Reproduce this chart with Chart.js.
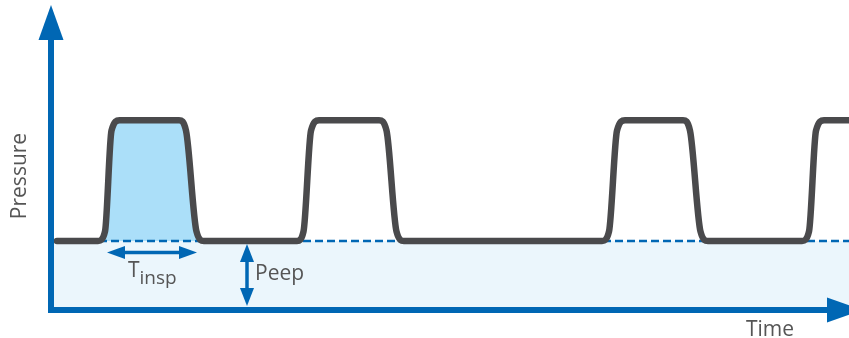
<!DOCTYPE html>
<html>
<head>
<meta charset="utf-8">
<title>Pressure / Time</title>
<script src="https://cdn.jsdelivr.net/npm/chart.js@4.4.1/dist/chart.umd.min.js"></script>
<style>
    html, body { margin: 0; padding: 0; background: #ffffff; }
    #contenitore { position: relative; width: 849px; height: 338px; }
</style>
</head>
<body>
<div id="contenitore"><canvas id="myChart"></canvas></div>
<script>
// curva di pressione: tempo in s, pressione in cmH2O
let tempo = [0.06,
    0.47, 0.54, 0.605, 0.685, 1.28, 1.35, 1.455, 1.53,
    2.46, 2.525, 2.60, 2.68, 3.28, 3.355, 3.455, 3.53,
    5.51, 5.58, 5.66, 5.74, 6.32, 6.39, 6.495, 6.57,
    7.51, 7.58, 7.65, 7.73, 7.99];
let pressione = [4,
    4, 4.55, 10.4, 11, 11, 10.4, 4.55, 4,
    4, 4.55, 10.4, 11, 11, 10.4, 4.55, 4,
    4, 4.55, 10.4, 11, 11, 10.4, 4.55, 4,
    4, 4.55, 10.4, 11, 11];

let peep = 4;
let primoAtto = [1, 9];          // indici del primo ciclo inspiratorio
let tInsp = [0.56, 1.46];        // freccia T insp
let pInsp = 3.33;
let tPeep = 1.96;                // freccia Peep
let rangeTempo = [-0.51, 7.98];
let rangePressione = [-1.623, 17.971];
let puntaAssi = [8.11, 17.68];   // punte delle frecce degli assi (tempo, pressione)

const BLU = "#0067b4";
const GRIGIO = "#4a4a4c";
const TESTO = "#555555";

function punti(xs, ys)
{
    let lst = [];
    for (let i = 0; i < xs.length; i++)
    {
        lst.push({x: xs[i], y: ys[i]});
    }
    return lst;
}

function freccia(c, x, y, dx, dy, lung, larg)
{
    // punta in (x,y), direzione (dx,dy)
    let bx = x - dx * lung, by = y - dy * lung;
    c.beginPath();
    c.moveTo(x, y);
    c.lineTo(bx - dy * larg / 2, by + dx * larg / 2);
    c.lineTo(bx + dy * larg / 2, by - dx * larg / 2);
    c.closePath();
    c.fill();
}

let annotazioni = {
    id: "annotazioni",
    afterDatasetsDraw(chart)
    {
        let c = chart.ctx;
        let sx = chart.scales.x;
        let sy = chart.scales.y;
        let x0 = sx.getPixelForValue(0);
        let y0 = sy.getPixelForValue(0);
        let xFine = sx.getPixelForValue(puntaAssi[0]);
        let yFine = sy.getPixelForValue(puntaAssi[1]);

        c.save();
        c.strokeStyle = BLU;
        c.fillStyle = BLU;

        // assi
        c.lineWidth = 6;
        c.lineJoin = "miter";
        c.beginPath();
        c.moveTo(x0, yFine + 30);
        c.lineTo(x0, y0);
        c.lineTo(xFine - 30, y0);
        c.stroke();
        freccia(c, x0, yFine, 0, -1, 35, 25);
        freccia(c, xFine, y0, 1, 0, 35, 25);

        // T insp
        let ya = sy.getPixelForValue(pInsp);
        let xa = sx.getPixelForValue(tInsp[0]);
        let xb = sx.getPixelForValue(tInsp[1]);
        c.lineWidth = 3.5;
        c.beginPath();
        c.moveTo(xa + 10, ya);
        c.lineTo(xb - 10, ya);
        c.stroke();
        freccia(c, xa, ya, -1, 0, 18, 13);
        freccia(c, xb, ya, 1, 0, 18, 13);

        // Peep
        let xp = sx.getPixelForValue(tPeep);
        let yp = sy.getPixelForValue(peep) + 3;
        let yq = y0 - 4;
        c.beginPath();
        c.moveTo(xp, yp + 10);
        c.lineTo(xp, yq - 10);
        c.stroke();
        freccia(c, xp, yp, 0, -1, 18, 14);
        freccia(c, xp, yq, 0, 1, 18, 14);

        // testi
        c.fillStyle = TESTO;
        c.textBaseline = "alphabetic";
        c.textAlign = "left";
        c.font = "21px 'Open Sans'";
        c.fillText("T", (xa + xb) / 2 - 24, ya + 24);
        let wT = c.measureText("T").width;
        c.font = "19px 'Open Sans'";
        c.fillText("insp", (xa + xb) / 2 - 24 + wT, ya + 31);
        c.font = "21px 'Open Sans'";
        c.fillText("Peep", xp + 8, yp + 36);
        c.fillText("Time", 746, 336);

        c.translate(26, 176);
        c.rotate(-Math.PI / 2);
        c.textAlign = "center";
        c.fillText("Pressure", 0, 0);
        c.restore();
    }
};

let linea = [{x: 0, y: peep}, {x: rangeTempo[1], y: peep}];
let ctx = document.getElementById("myChart");
let chart = new Chart(ctx, {
    type: "line",
    data: {
        datasets: [
            {
                label: "Pressure",
                data: punti(tempo, pressione),
                borderColor: GRIGIO,
                borderWidth: 6.5,
                borderCapStyle: "round",
                borderJoinStyle: "round",
                cubicInterpolationMode: "monotone",
                pointRadius: 0,
                fill: false
            },
            {
                label: "Peep",
                data: linea,
                borderColor: BLU,
                borderWidth: 2.5,
                borderDash: [8, 4],
                pointRadius: 0,
                fill: false
            },
            {
                label: "Tinsp",
                data: punti(tempo.slice(primoAtto[0], primoAtto[1]), pressione.slice(primoAtto[0], primoAtto[1])),
                borderColor: "rgba(0,0,0,0)",
                backgroundColor: "#abdff9",
                cubicInterpolationMode: "monotone",
                pointRadius: 0,
                fill: {value: peep}
            },
            {
                label: "Base",
                data: linea,
                borderColor: "rgba(0,0,0,0)",
                backgroundColor: "#ebf6fc",
                pointRadius: 0,
                fill: {value: 0}
            }
        ]
    },
    options: {
        responsive: true,
        maintainAspectRatio: false,
        animation: false,
        events: [],
        layout: { padding: 0 },
        plugins: {
            legend: { display: false },
            tooltip: { enabled: false }
        },
        scales: {
            x: { type: "linear", display: false, min: rangeTempo[0], max: rangeTempo[1] },
            y: { display: false, min: rangePressione[0], max: rangePressione[1] }
        }
    },
    plugins: [annotazioni]
});
</script>
</body>
</html>
